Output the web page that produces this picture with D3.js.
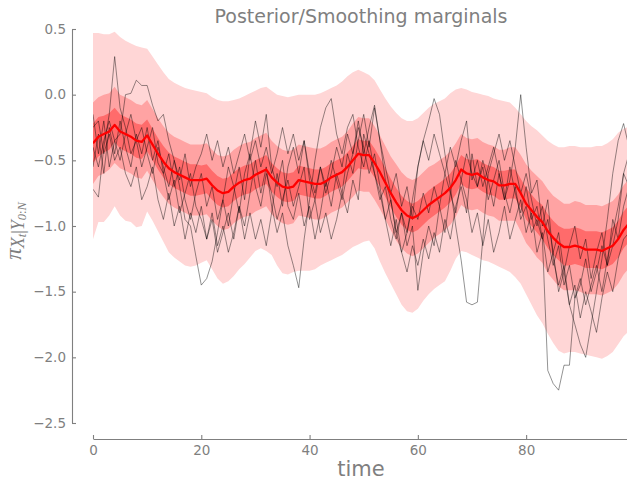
<!DOCTYPE html>
<html>
<head>
<meta charset="utf-8">
<script src="https://cdn.jsdelivr.net/npm/d3@7"></script>
<style>
  html, body { margin: 0; padding: 0; background: #fff; }
  svg { display: block; }
</style>
</head>
<body>
<svg id="chart" width="627" height="481"></svg>
<script>
// Smoothing marginals: posterior mean, three credible bands and a few sampled trajectories.

const times = d3.range(0, 100);

const meanPath = [
  -0.37,-0.32,-0.30,-0.28,-0.23,-0.28,-0.30,-0.32,-0.35,-0.36,
  -0.31,-0.38,-0.45,-0.51,-0.56,-0.59,-0.61,-0.63,-0.65,-0.65,
  -0.65,-0.64,-0.69,-0.73,-0.75,-0.74,-0.70,-0.67,-0.65,-0.64,
  -0.61,-0.59,-0.57,-0.63,-0.67,-0.70,-0.71,-0.70,-0.65,-0.66,
  -0.67,-0.68,-0.68,-0.66,-0.63,-0.61,-0.59,-0.55,-0.50,-0.45,
  -0.46,-0.46,-0.52,-0.59,-0.67,-0.75,-0.82,-0.88,-0.92,-0.94,
  -0.92,-0.88,-0.84,-0.81,-0.78,-0.75,-0.71,-0.65,-0.57,-0.60,
  -0.61,-0.60,-0.63,-0.65,-0.66,-0.69,-0.69,-0.68,-0.68,-0.75,
  -0.83,-0.88,-0.93,-0.97,-1.04,-1.09,-1.13,-1.16,-1.16,-1.15,
  -1.16,-1.18,-1.18,-1.18,-1.19,-1.17,-1.15,-1.10,-1.03,-0.98
];

// half-width of the narrow band around the mean
const innerHalf = [
  0.15,0.15,0.14,0.14,0.13,0.13,0.13,0.13,0.13,0.13,
  0.12,0.12,0.12,0.12,0.12,0.12,0.12,0.12,0.12,0.12,
  0.11,0.11,0.11,0.11,0.11,0.11,0.11,0.11,0.11,0.11,
  0.11,0.11,0.11,0.11,0.11,0.11,0.11,0.11,0.11,0.11,
  0.11,0.11,0.11,0.11,0.11,0.11,0.11,0.11,0.11,0.11,
  0.11,0.11,0.11,0.11,0.11,0.11,0.11,0.11,0.11,0.11,
  0.11,0.11,0.11,0.11,0.11,0.11,0.11,0.11,0.11,0.11,
  0.11,0.11,0.11,0.11,0.11,0.11,0.11,0.11,0.11,0.11,
  0.12,0.12,0.12,0.13,0.13,0.13,0.13,0.14,0.14,0.14,
  0.14,0.14,0.14,0.14,0.14,0.14,0.14,0.14,0.14,0.14
];

// half-width of the intermediate band
const middleHalf = [
  0.31,0.30,0.30,0.29,0.29,0.28,0.28,0.28,0.28,0.28,
  0.27,0.27,0.27,0.27,0.27,0.27,0.27,0.27,0.27,0.27,
  0.27,0.27,0.27,0.27,0.28,0.28,0.28,0.28,0.28,0.28,
  0.28,0.28,0.28,0.28,0.28,0.28,0.28,0.28,0.27,0.27,
  0.27,0.27,0.27,0.27,0.27,0.27,0.27,0.27,0.28,0.28,
  0.28,0.28,0.28,0.28,0.28,0.28,0.29,0.29,0.29,0.29,
  0.29,0.29,0.29,0.28,0.28,0.28,0.28,0.28,0.27,0.27,
  0.27,0.27,0.27,0.27,0.27,0.27,0.27,0.28,0.28,0.29,
  0.30,0.30,0.31,0.31,0.32,0.32,0.33,0.33,0.33,0.34,
  0.34,0.34,0.34,0.34,0.34,0.34,0.34,0.34,0.34,0.34
];

// wide band: upper and lower edges
const outerHigh = [
   0.47, 0.47, 0.46, 0.46, 0.48, 0.44, 0.41, 0.39, 0.37, 0.36,
   0.35, 0.29, 0.23, 0.17, 0.12, 0.09, 0.07, 0.05, 0.04, 0.03,
   0.02, 0.01,-0.02,-0.04,-0.05,-0.05,-0.04,-0.03,-0.01, 0.01,
   0.03, 0.05, 0.06, 0.03, 0.00,-0.01,-0.02,-0.01, 0.00, 0.00,
   0.00, 0.00, 0.01, 0.03, 0.05, 0.07, 0.10, 0.14, 0.17, 0.19,
   0.17, 0.15, 0.11, 0.04,-0.03,-0.09,-0.14,-0.18,-0.20,-0.20,
  -0.18,-0.14,-0.10,-0.07,-0.05,-0.03, 0.01, 0.04, 0.05, 0.04,
   0.02, 0.01, 0.00,-0.01,-0.03,-0.04,-0.05,-0.06,-0.10,-0.15,
  -0.20,-0.24,-0.27,-0.31,-0.35,-0.38,-0.40,-0.40,-0.39,-0.39,
  -0.40,-0.40,-0.40,-0.39,-0.39,-0.37,-0.34,-0.29,-0.26,-0.24
];
const outerLow = [
  -1.10,-0.97,-0.97,-0.92,-0.85,-0.92,-0.96,-0.97,-1.01,-1.00,
  -0.89,-0.96,-1.04,-1.12,-1.20,-1.24,-1.27,-1.30,-1.31,-1.30,
  -1.28,-1.26,-1.33,-1.40,-1.44,-1.42,-1.38,-1.33,-1.29,-1.24,
  -1.19,-1.17,-1.19,-1.22,-1.30,-1.36,-1.37,-1.35,-1.34,-1.34,
  -1.34,-1.33,-1.30,-1.28,-1.26,-1.24,-1.22,-1.19,-1.16,-1.14,
  -1.12,-1.11,-1.17,-1.27,-1.36,-1.44,-1.52,-1.60,-1.65,-1.66,
  -1.63,-1.57,-1.52,-1.48,-1.45,-1.42,-1.34,-1.25,-1.19,-1.20,
  -1.22,-1.24,-1.26,-1.27,-1.29,-1.31,-1.33,-1.35,-1.39,-1.44,
  -1.52,-1.60,-1.68,-1.74,-1.82,-1.89,-1.95,-1.97,-1.96,-1.96,
  -1.97,-1.98,-1.99,-2.00,-2.01,-1.99,-1.96,-1.90,-1.84,-1.80
];

// sampled smoothing trajectories
const trajA = [
  -0.72,-0.78,-0.40,-0.15, 0.29,-0.10,-0.25,-0.45,-0.35,-0.55,
  -0.40,-0.25,-0.52,-0.60,-0.45,-0.70,-0.55,-0.80,-0.95,-0.75,
  -0.60,-0.85,-0.70,-0.95,-0.80,-0.55,-0.70,-0.90,-0.60,-0.45,
  -0.70,-0.85,-0.60,-0.75,-0.95,-0.80,-0.65,-0.85,-0.70,-0.55,
  -0.95,-0.80,-1.05,-0.90,-1.10,-0.95,-0.75,-0.90,-0.65,-0.80,
  -0.30,-0.45,-0.60,-0.80,-0.70,-0.95,-1.10,-0.90,-1.05,-0.85,
  -0.95,-0.75,-0.90,-0.70,-0.85,-0.60,-0.75,-0.50,-0.65,-0.45,
  -0.60,-0.70,-0.55,-0.80,-0.65,-0.50,-0.75,-0.90,-0.70,-0.95,
  -0.85,-1.05,-0.95,-1.10,-2.10,-2.20,-2.25,-2.06,-2.06,-1.55,
  -1.45,-1.25,-1.50,-1.35,-1.15,-1.30,-0.95,-1.10,-0.85,-0.70
];
const trajB = [
  -0.15,-0.45,-0.20,-0.55,-0.35,-0.30, 0.00, 0.01, 0.11, 0.07,
   0.07,-0.08,-0.20,-0.15,-0.35,-0.50,-0.70,-0.95,-1.00,-1.23,
  -1.45,-1.40,-1.27,-1.05,-0.80,-1.00,-0.75,-0.55,-0.80,-0.45,
  -0.20,-0.40,-0.15,-0.55,-0.70,-0.50,-0.85,-0.95,-0.75,-1.00,
  -0.85,-1.10,-0.90,-0.65,-0.85,-0.60,-0.75,-0.45,-0.60,-0.35,
  -0.15,-0.40,-0.10,-0.35,-0.65,-0.80,-1.05,-1.20,-1.35,-1.15,
  -1.30,-1.10,-1.25,-1.05,-1.20,-0.95,-1.10,-0.85,-0.70,-0.90,
  -0.45,-0.70,-0.50,-0.65,-0.85,-0.60,-0.80,-0.55,-0.75,-0.90,
  -0.70,-0.95,-0.85,-1.10,-0.95,-1.20,-1.05,-1.35,-1.15,-1.00,
  -1.25,-1.10,-1.40,-1.20,-1.05,-1.30,-1.15,-0.95,-0.60,-0.70
];
const trajC = [
  -0.25,-0.20,-0.45,-0.30,-0.50,-0.40,-0.60,-0.70,-0.55,-0.80,
  -0.70,-0.55,-0.80,-0.95,-0.75,-1.00,-0.85,-1.10,-0.90,-1.05,
  -0.85,-1.10,-0.95,-1.20,-1.05,-0.90,-1.10,-0.85,-1.00,-0.75,
  -0.50,-0.75,-0.55,-0.85,-1.05,-0.90,-1.15,-1.30,-1.47,-1.10,
  -0.80,-0.50,-0.25,-0.10,-0.03,-0.30,-0.45,-0.25,-0.15,-0.40,
  -0.55,-0.35,-0.60,-0.75,-0.95,-0.80,-1.05,-0.90,-1.15,-1.00,
  -1.49,-1.20,-1.00,-1.15,-0.85,-1.05,-0.75,-0.90,-0.65,-0.80,
  -1.05,-0.90,-1.15,-0.95,-1.20,-1.05,-0.85,-1.10,-0.95,-0.80,
  -1.05,-0.90,-1.20,-1.05,-1.35,-1.20,-1.50,-1.35,-1.60,-1.45,
  -1.70,-1.50,-1.65,-1.81,-1.55,-1.35,-1.50,-1.25,-1.10,-1.05
];
const trajD = [
  -0.55,-0.30,-0.60,-0.25,-0.45,-0.20,-0.40,-0.55,-0.30,-0.45,
  -0.25,-0.50,-0.35,-0.60,-0.80,-0.65,-0.90,-0.75,-0.60,-0.85,
  -0.95,-1.10,-0.90,-1.15,-1.00,-1.20,-1.05,-0.85,-1.10,-0.90,
  -1.10,-0.95,-1.15,-0.90,-0.60,-0.85,-0.55,-0.40,-0.60,-0.35,
  -0.65,-0.80,-0.55,-0.75,-0.60,-0.40,-0.55,-0.30,-0.45,-0.25,
  -0.40,-0.60,-0.45,-0.70,-0.95,-1.15,-0.95,-1.20,-1.05,-0.80,
  -0.55,-0.35,-0.20,-0.03,-0.15,-0.45,-0.70,-1.00,-1.26,-1.58,
  -1.60,-1.58,-1.10,-0.60,-0.45,-0.30,-0.50,-0.35,-0.55,-0.75,
  -0.60,-0.80,-1.00,-0.85,-1.10,-1.30,-1.15,-1.45,-1.30,-1.55,
  -1.40,-1.60,-1.45,-1.30,-1.50,-1.25,-1.05,-0.85,-0.60,-0.45
];
const trajE = [
  -0.40,-0.55,-0.35,-0.20,-0.35,-0.50,-0.30,-0.15,-0.35,-0.25,
  -0.45,-0.60,-0.40,-0.55,-0.70,-0.50,-0.65,-0.45,-0.70,-0.55,
  -0.45,-0.30,-0.50,-0.35,-0.55,-0.40,-0.60,-0.45,-0.30,-0.50,
  -0.35,-0.55,-0.40,-0.60,-0.45,-0.25,-0.45,-0.30,-0.50,-0.35,
  -0.60,-0.75,-0.55,-0.70,-0.50,-0.65,-0.80,-0.60,-0.45,-0.20,
  -0.45,-0.25,-0.08,-0.35,-0.55,-0.75,-0.60,-0.85,-0.70,-0.95,
  -0.55,-0.35,-0.50,-0.30,-0.45,-0.60,-0.40,-0.55,-0.35,-0.20,
  -0.65,-0.50,-0.70,-0.55,-0.40,-0.60,-0.80,-0.65,-0.40, 0.00,
  -0.40,-0.75,-0.65,-1.00,-0.80,-1.25,-1.45,-1.30,-1.60,-1.75,
  -1.90,-2.00,-1.75,-1.50,-1.25,-0.95,-0.60,-0.35,-0.22,-0.40
];
const trajectories = [trajA, trajB, trajC, trajD, trajE];

const xTicks = [0, 20, 40, 60, 80];
const yTicks = [-2.5, -2.0, -1.5, -1.0, -0.5, 0.0, 0.5];

const titleText = "Posterior/Smoothing marginals";
const xLabelText = "time";

// layout
const W = 627, H = 481;
const plot = { left: 93, right: 629, top: 29, bottom: 423 };
const leftSpineX = 72;
const bottomSpineY = 439;
const grey = "#7f7f7f";

const svg = d3.select("#chart");

const x = d3.scaleLinear().domain([0, 99]).range([plot.left, plot.right]);
const y = d3.scaleLinear().domain([-2.5, 0.5]).range([plot.bottom, plot.top]);

svg.append("defs").append("clipPath").attr("id", "plotClip")
  .append("rect")
  .attr("x", plot.left).attr("y", 0)
  .attr("width", plot.right - plot.left).attr("height", H);

const g = svg.append("g").attr("clip-path", "url(#plotClip)");

const band = (lo, hi) => d3.area()
  .x(i => x(times[i]))
  .y0(i => y(lo(i)))
  .y1(i => y(hi(i)));

const idx = d3.range(times.length);

g.append("path").datum(idx)
  .attr("fill", "#ffd6d6")
  .attr("d", band(i => outerLow[i], i => outerHigh[i]));

g.append("path").datum(idx)
  .attr("fill", "#ffa3a3")
  .attr("d", band(i => meanPath[i] - middleHalf[i], i => meanPath[i] + middleHalf[i]));

g.append("path").datum(idx)
  .attr("fill", "#ff6b6b")
  .attr("d", band(i => meanPath[i] - innerHalf[i], i => meanPath[i] + innerHalf[i]));

const line = d3.line().x((d, i) => x(times[i])).y(d => y(d));

g.selectAll("path.traj").data(trajectories).join("path")
  .attr("class", "traj")
  .attr("fill", "none")
  .attr("stroke", "#000")
  .attr("stroke-opacity", 0.5)
  .attr("stroke-width", 0.85)
  .attr("stroke-linejoin", "round")
  .attr("d", line);

g.append("path").datum(meanPath)
  .attr("fill", "none")
  .attr("stroke", "#ff0000")
  .attr("stroke-width", 2.3)
  .attr("stroke-linejoin", "round")
  .attr("d", line);

// axes (offset spines, inward ticks)
const fmt = d3.format(".1f");

const yAxis = d3.axisLeft(y)
  .tickValues(yTicks)
  .tickFormat(fmt)
  .tickSizeInner(-4)
  .tickSizeOuter(0)
  .tickPadding(6);

const xAxis = d3.axisBottom(x)
  .tickValues(xTicks)
  .tickFormat(d3.format("d"))
  .tickSizeInner(-4)
  .tickSizeOuter(0)
  .tickPadding(6);

const gy = svg.append("g")
  .attr("transform", `translate(${leftSpineX},0)`)
  .call(yAxis);

const gx = svg.append("g")
  .attr("transform", `translate(0,${bottomSpineY})`)
  .call(xAxis);

[gx, gy].forEach(ax => {
  ax.select(".domain").attr("stroke", grey).attr("stroke-width", 1.1);
  ax.selectAll(".tick line").attr("stroke", grey).attr("stroke-width", 1.1);
  ax.selectAll(".tick text")
    .attr("fill", grey)
    .style("font-family", "DejaVu Sans, sans-serif")
    .style("font-size", "13.5px");
});

// title
svg.append("text")
  .attr("x", 361).attr("y", 23)
  .attr("text-anchor", "middle")
  .attr("fill", grey)
  .style("font-family", "DejaVu Sans, sans-serif")
  .style("font-size", "19px")
  .text(titleText);

// x label
svg.append("text")
  .attr("x", 361).attr("y", 476)
  .attr("text-anchor", "middle")
  .attr("fill", grey)
  .style("font-family", "DejaVu Sans, sans-serif")
  .style("font-size", "21px")
  .text(xLabelText);

// y label: pi_{X_t | Y_{0:N}}
const yl = svg.append("text")
  .attr("transform", "translate(21,231) rotate(-90)")
  .attr("text-anchor", "middle")
  .attr("fill", grey)
  .style("font-family", "Liberation Serif, DejaVu Serif, serif")
  .style("font-style", "italic");
yl.append("tspan").style("font-size", "23px").text("π");
yl.append("tspan").attr("dy", 3).style("font-size", "18px").text("X");
yl.append("tspan").attr("dy", 2).style("font-size", "12.5px").text("t");
yl.append("tspan").attr("dy", -2).style("font-size", "18px").style("font-style", "normal").text("|");
yl.append("tspan").style("font-size", "18px").text("Y");
yl.append("tspan").attr("dy", 2).style("font-size", "12.5px").text("0");
yl.append("tspan").style("font-size", "12.5px").style("font-style", "normal").text(":");
yl.append("tspan").style("font-size", "12.5px").text("N");
</script>
</body>
</html>
